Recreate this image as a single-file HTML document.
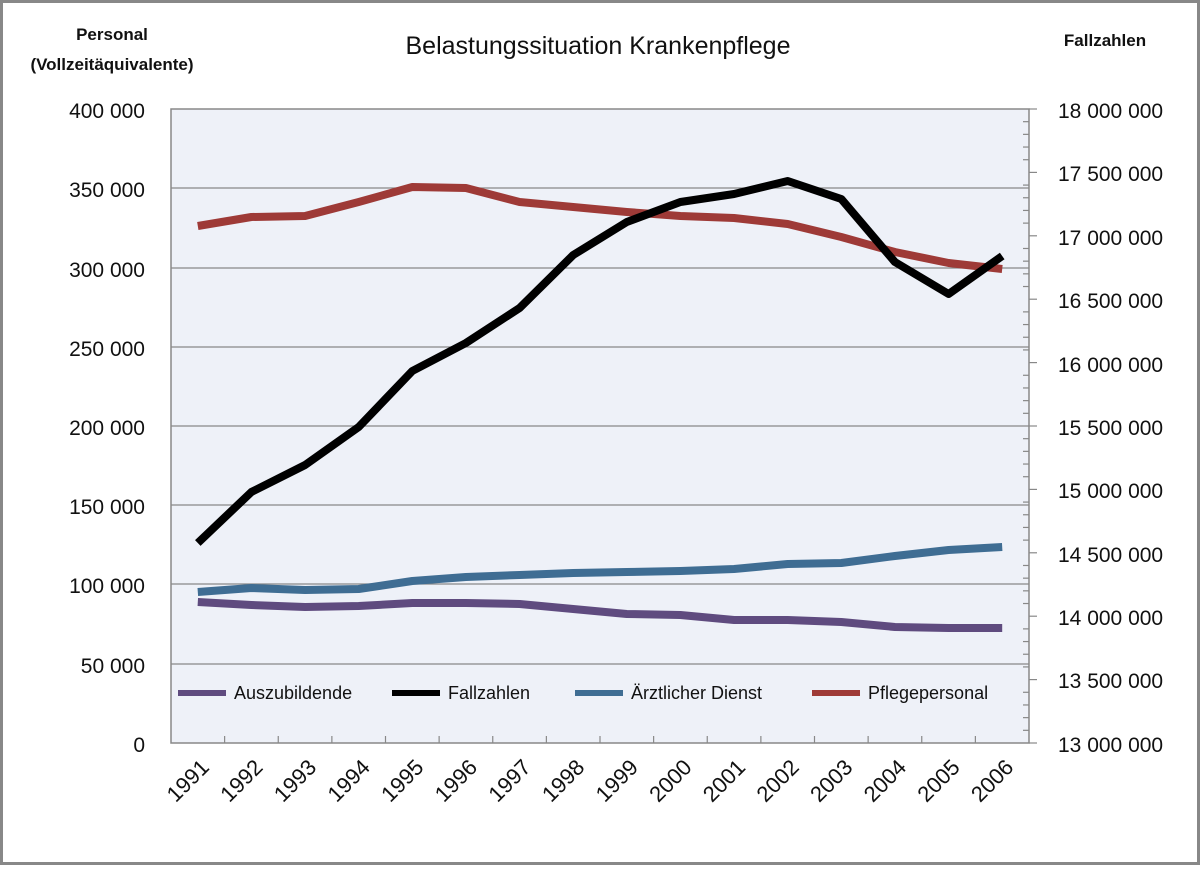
<!DOCTYPE html>
<html><head><meta charset="utf-8"><style>
body{margin:0;background:#fff}
svg text{font-family:"Liberation Sans",sans-serif;fill:#111}
</style></head><body>
<svg width="1200" height="865" viewBox="0 0 1200 865" xmlns="http://www.w3.org/2000/svg">
<rect x="1.5" y="1.5" width="1197" height="862" fill="#fff" stroke="#888" stroke-width="3"/>
<text x="112" y="40" font-size="17" font-weight="bold" text-anchor="middle">Personal</text>
<text x="112" y="70" font-size="17" font-weight="bold" text-anchor="middle">(Vollzeitäquivalente)</text>
<text x="598" y="54" font-size="25" text-anchor="middle">Belastungssituation Krankenpflege</text>
<text x="1105" y="46" font-size="17" font-weight="bold" text-anchor="middle">Fallzahlen</text>
<rect x="171" y="109" width="858" height="634" fill="#eef1f8" stroke="#888" stroke-width="1.5"/>
<g stroke="#888" stroke-width="1.2">
<line x1="171" y1="188" x2="1029" y2="188"/><line x1="171" y1="268" x2="1029" y2="268"/>
<line x1="171" y1="347" x2="1029" y2="347"/><line x1="171" y1="426" x2="1029" y2="426"/>
<line x1="171" y1="505" x2="1029" y2="505"/><line x1="171" y1="584" x2="1029" y2="584"/>
<line x1="171" y1="664" x2="1029" y2="664"/>
</g>
<g stroke="#888" stroke-width="1.2" id="ticks"></g>
<g font-size="21" text-anchor="end">
<text x="145" y="118">400 000</text><text x="145" y="197">350 000</text><text x="145" y="277">300 000</text>
<text x="145" y="356">250 000</text><text x="145" y="435">200 000</text><text x="145" y="514">150 000</text>
<text x="145" y="593">100 000</text><text x="145" y="673">50 000</text><text x="145" y="752">0</text>
</g>
<g font-size="21">
<text x="1058" y="118">18 000 000</text><text x="1058" y="181">17 500 000</text><text x="1058" y="245">17 000 000</text>
<text x="1058" y="308">16 500 000</text><text x="1058" y="372">16 000 000</text><text x="1058" y="435">15 500 000</text>
<text x="1058" y="498">15 000 000</text><text x="1058" y="562">14 500 000</text><text x="1058" y="625">14 000 000</text>
<text x="1058" y="688">13 500 000</text><text x="1058" y="752">13 000 000</text>
</g>
<g font-size="22" id="years"></g>
<g fill="none" stroke-width="8" stroke-linejoin="round" stroke-linecap="butt">
<polyline id="azubi" stroke="#5f4b7f"/>
<polyline id="arzt" stroke="#3f6d93"/>
<polyline id="pflege" stroke="#9e3a37"/>
<polyline id="fall" stroke="#000"/>
</g>
<g font-size="18">
<line x1="178" y1="693" x2="226" y2="693" stroke="#5f4b7f" stroke-width="6"/><text x="234" y="699">Auszubildende</text>
<line x1="392" y1="693" x2="440" y2="693" stroke="#000" stroke-width="6"/><text x="448" y="699">Fallzahlen</text>
<line x1="575" y1="693" x2="623" y2="693" stroke="#3f6d93" stroke-width="6"/><text x="631" y="699">Ärztlicher Dienst</text>
<line x1="812" y1="693" x2="860" y2="693" stroke="#9e3a37" stroke-width="6"/><text x="868" y="699">Pflegepersonal</text>
</g>
</svg>
<script>
const x0=171,w=858/16;
const d={fall:[543,492,465,427,371,343,308,255,222,202,194,181,199,262,294,256],
pflege:[226,217,216,202,187,188,202,207,212,216,218,224,237,252,263,269],
arzt:[592,588,590,589,581,577,575,573,572,571,569,564,563,556,550,547],
azubi:[602,605,607,606,603,603,604,609,614,615,620,620,622,627,628,628]};
for(const k in d){document.getElementById(k).setAttribute('points',d[k].map((y,i)=>(x0+w*(i+.5)).toFixed(1)+','+y).join(' '));}
const ns='http://www.w3.org/2000/svg';let t=document.getElementById('ticks'),yr=document.getElementById('years');
function ln(a,b,c,e){let l=document.createElementNS(ns,'line');l.setAttribute('x1',a);l.setAttribute('y1',b);l.setAttribute('x2',c);l.setAttribute('y2',e);t.appendChild(l);}
for(let i=1;i<16;i++){let x=x0+w*i;ln(x,743,x,736);}
for(let i=0;i<=50;i++){let y=109+634*i/50;if(i%5==0)ln(1029,y,1037,y);else ln(1023,y,1029,y);}
for(let i=0;i<16;i++){let cx=x0+w*(i+.5)+2,cy=758;let s=document.createElementNS(ns,'text');s.setAttribute('x',cx);s.setAttribute('y',cy);s.setAttribute('text-anchor','end');s.setAttribute('transform','rotate(-45 '+cx+' '+cy+')');s.setAttribute('dy','15');s.textContent=1991+i;yr.appendChild(s);}
</script>
</body></html>
